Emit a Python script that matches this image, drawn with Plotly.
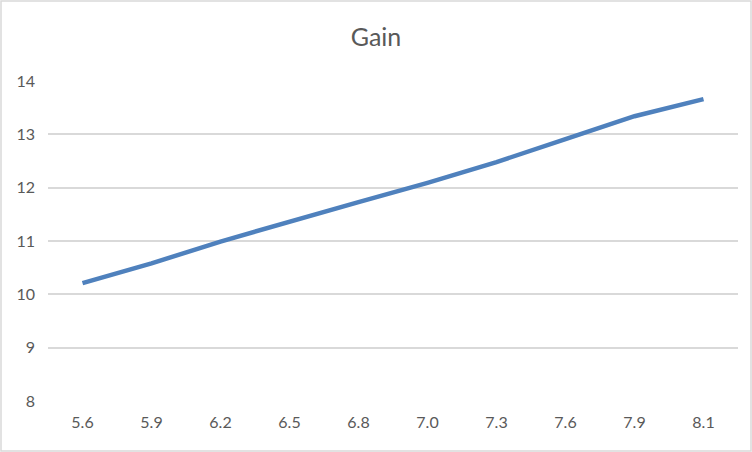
import plotly.graph_objects as go

categories = ["5.6", "5.9", "6.2", "6.5", "6.8", "7.0", "7.3", "7.6", "7.9", "8.1"]
gain = [10.21, 10.58, 10.99, 11.37, 11.73, 12.09, 12.48, 12.91, 13.34, 13.66]
y_ticks = [8, 9, 10, 11, 12, 13, 14]

fig = go.Figure()
fig.add_trace(go.Scatter(x=categories, y=gain, mode="lines",
                         line=dict(color="#4F81BD", width=4.5), showlegend=False))

W, H = 752, 452
ml, mr, mt, mb = 48, 14, 81, 51
pw, ph = W - ml - mr, H - mt - mb
FONT = "Lato, Liberation Sans, Arial"

fig.update_layout(
    width=W, height=H,
    margin=dict(l=ml, r=mr, t=mt, b=mb),
    paper_bgcolor="white", plot_bgcolor="white",
    title=dict(text="Gain", x=0.5, xanchor="center", y=1 - 37 / H, yanchor="middle",
               font=dict(family=FONT, size=25, color="#595959")),
    font=dict(family=FONT, size=16, color="#595959"),
    xaxis=dict(type="category", range=[-0.5, 9.5], showgrid=False, zeroline=False,
               showline=False, ticks="", ticklabelstandoff=10,
               tickfont=dict(family=FONT, size=16, color="#595959")),
    yaxis=dict(range=[8, 14], tickvals=y_ticks, showgrid=True, gridcolor="#D9D9D9",
               gridwidth=1.5, zeroline=False, showline=False, ticks="",
               ticklabelstandoff=12, tickfont=dict(family=FONT, size=16, color="#595959")),
    shapes=[dict(type="rect", xref="paper", yref="paper",
                 x0=-(ml - 1) / pw, x1=1 + (mr - 1) / pw,
                 y0=-(mb - 1) / ph, y1=1 + (mt - 1) / ph,
                 line=dict(color="#D9D9D9", width=1.5), layer="below")],
)

fig.write_html("out.html", config={"displayModeBar": False})
with open("out.html", encoding="utf-8") as f:
    html = f.read()
html = html.replace("<head>", "<head><style>html,body{margin:0;padding:0;overflow:hidden;}</style>", 1)
with open("out.html", "w", encoding="utf-8") as f:
    f.write(html)
